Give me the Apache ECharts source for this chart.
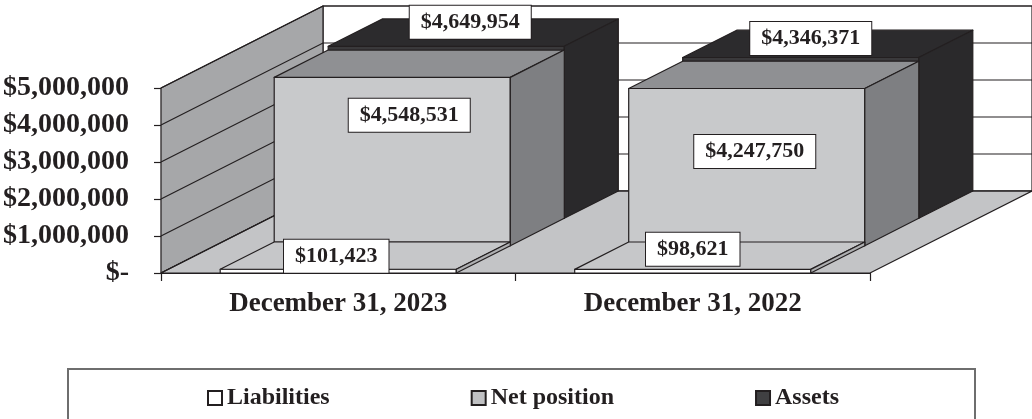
<!DOCTYPE html>
<html><head><meta charset="utf-8">
<script src="https://cdn.jsdelivr.net/npm/echarts@6/dist/echarts.min.js"></script>
<style>html,body{margin:0;padding:0;background:#fff}#c{width:1032px;height:419px}</style>
</head><body><div id="c"></div>
<script>
// ---- data ----
const categories = ['December 31, 2023', 'December 31, 2022'];
const liabilities = [101423, 98621];
const netPosition = [4548531, 4247750];
const assets = [4649954, 4346371];
const yTickValues = [0, 1000000, 2000000, 3000000, 4000000, 5000000];
const yTickLabels = ['$-', '$1,000,000', '$2,000,000', '$3,000,000', '$4,000,000', '$5,000,000'];

// ---- layout / style ----
const DEPTH_X = 162, DEPTH_Y = -82, ROWS = 3, BAR_RATIO = 0.666;
const INK = '#231f20';
const FONT = '"Liberation Serif", "Times New Roman", serif';
const FACE = {
  'Liabilities': ['#ffffff', '#c6c7c9', '#aeafb1'],
  'Net position': ['#c8c9cb', '#8f9093', '#7e7f82'],
  'Assets': ['#3a393b', '#2c2b2d', '#2a292b']
};
const LEGEND_FILL = { 'Liabilities': '#ffffff', 'Net position': '#c0c1c3', 'Assets': '#404042' };
const LABEL_NUDGE = {
  'Liabilities': [[-2, -13], [0, -20]],
  'Net position': [[17, 38], [8, 63]],
  'Assets': [[24, -24], [10, -19]]
};
const EDGE = { stroke: INK, lineWidth: 1.2, lineJoin: 'round' };

function fmtMoney(v) { return '$' + v.toLocaleString('en-US'); }

const chart = echarts.init(document.getElementById('c'));

function wallsRender(params, api) {
  const cs = params.coordSys;
  const x0 = cs.x, x1 = cs.x + cs.width;
  const yb = api.coord([0, yTickValues[0]])[1];
  const yt = api.coord([0, yTickValues[yTickValues.length - 1]])[1];
  return {
    type: 'group',
    children: [
      { type: 'polygon', z2: 0, shape: { points: [[x0 + DEPTH_X, yt + DEPTH_Y], [x1 + DEPTH_X, yt + DEPTH_Y], [x1 + DEPTH_X, yb + DEPTH_Y], [x0 + DEPTH_X, yb + DEPTH_Y]] },
        style: Object.assign({ fill: '#ffffff' }, EDGE) },
      { type: 'polygon', z2: 1, shape: { points: [[x0, yb], [x0, yt], [x0 + DEPTH_X, yt + DEPTH_Y], [x0 + DEPTH_X, yb + DEPTH_Y]] },
        style: Object.assign({ fill: '#a6a7a9' }, EDGE) },
      { type: 'polygon', z2: 1, shape: { points: [[x0, yb], [x1, yb], [x1 + DEPTH_X, yb + DEPTH_Y], [x0 + DEPTH_X, yb + DEPTH_Y]] },
        style: Object.assign({ fill: '#c3c4c6' }, EDGE) }
    ]
  };
}

function gridRender(params, api) {
  const cs = params.coordSys;
  const x0 = cs.x, x1 = cs.x + cs.width;
  const y = api.coord([0, api.value(1)])[1];
  return {
    type: 'polyline', z2: 2,
    shape: { points: [[x0, y], [x0 + DEPTH_X, y + DEPTH_Y], [x1 + DEPTH_X, y + DEPTH_Y]] },
    style: { fill: null, stroke: INK, lineWidth: 1.2 }
  };
}

function makeBarRender(name, row) {
  const faces = FACE[name];
  return function (params, api) {
    const i = api.value(0), v = api.value(1);
    const base = api.coord([i, 0]);
    const top = api.coord([i, v]);
    const bw = api.size([1, 0])[0] * BAR_RATIO;
    const dx = DEPTH_X / ROWS, dy = DEPTH_Y / ROWS;
    const ox = row * dx, oy = row * dy;
    const xa = base[0] - bw / 2 + ox, xb = base[0] + bw / 2 + ox;
    const yb = base[1] + oy, yt = top[1] + oy;
    const zb = 10 * (3 - row);
    const nudge = LABEL_NUDGE[name][i];
    return {
      type: 'group',
      children: [
        { type: 'polygon', z2: zb, shape: { points: [[xa, yb], [xb, yb], [xb, yt], [xa, yt]] }, style: Object.assign({ fill: faces[0] }, EDGE) },
        { type: 'polygon', z2: zb + 1, shape: { points: [[xa, yt], [xb, yt], [xb + dx, yt + dy], [xa + dx, yt + dy]] }, style: Object.assign({ fill: faces[1] }, EDGE) },
        { type: 'polygon', z2: zb + 1, shape: { points: [[xb, yb], [xb + dx, yb + dy], [xb + dx, yt + dy], [xb, yt]] }, style: Object.assign({ fill: faces[2] }, EDGE) },
        { type: 'text', z2: 100,
          style: {
            text: fmtMoney(v), x: (xa + xb) / 2 + nudge[0], y: yt + nudge[1],
            align: 'center', verticalAlign: 'middle',
            font: 'bold 22px ' + FONT, fill: INK,
            backgroundColor: '#ffffff', borderColor: INK, borderWidth: 1,
            padding: [6, 11, 5, 11]
          } }
      ]
    };
  };
}

const seriesDefs = [
  { name: 'Assets', values: assets, row: 2 },
  { name: 'Net position', values: netPosition, row: 1 },
  { name: 'Liabilities', values: liabilities, row: 0 }
];

const series = [
  { type: 'custom', name: '_walls', renderItem: wallsRender, data: [[0, 0]], silent: true, encode: { x: 0, y: 1 } },
  { type: 'custom', name: '_grid', renderItem: gridRender, data: yTickValues.map(v => [0, v]), silent: true, encode: { x: 0, y: 1 } }
].concat(seriesDefs.map(d => ({
  type: 'custom', name: d.name,
  itemStyle: { color: LEGEND_FILL[d.name] },
  renderItem: makeBarRender(d.name, d.row),
  data: categories.map((c, i) => [i, d.values[i]]),
  encode: { x: 0, y: 1 }
})));

chart.setOption({
  animation: false,
  backgroundColor: '#ffffff',
  grid: { left: 161, right: 162, top: 88, bottom: 146, containLabel: false },
  xAxis: {
    type: 'category', data: categories,
    axisLine: { show: true, lineStyle: { color: INK, width: 1.2 } },
    axisTick: { show: true, length: 8, lineStyle: { color: INK, width: 1.2 } },
    axisLabel: { color: INK, fontFamily: FONT, fontWeight: 'bold', fontSize: 27, margin: 18 },
    splitLine: { show: false }
  },
  yAxis: {
    type: 'value', min: 0, max: 5000000, interval: 1000000,
    axisLine: { show: true, lineStyle: { color: INK, width: 1.2 } },
    axisTick: { show: true, length: 7, lineStyle: { color: INK, width: 1.2 } },
    axisLabel: { color: INK, fontFamily: FONT, fontWeight: 'bold', fontSize: 28, margin: 32,
      formatter: v => yTickLabels[yTickValues.indexOf(v)] },
    splitLine: { show: false }
  },
  legend: {
    left: 202, top: 381, itemGap: 141, itemWidth: 14, itemHeight: 14, icon: 'rect',
    selectedMode: false,
    textStyle: { color: INK, fontFamily: FONT, fontWeight: 'bold', fontSize: 24 },
    data: ['Liabilities', 'Net position', 'Assets'].map(n => ({
      name: n, itemStyle: { color: LEGEND_FILL[n], borderColor: INK, borderWidth: 2 }
    }))
  },
  graphic: [{
    type: 'rect', z: -1, silent: true,
    shape: { x: 68, y: 369, width: 907, height: 60 },
    style: { fill: 'none', stroke: '#6e6e6e', lineWidth: 2 }
  }],
  series: series
});
</script></body></html>
